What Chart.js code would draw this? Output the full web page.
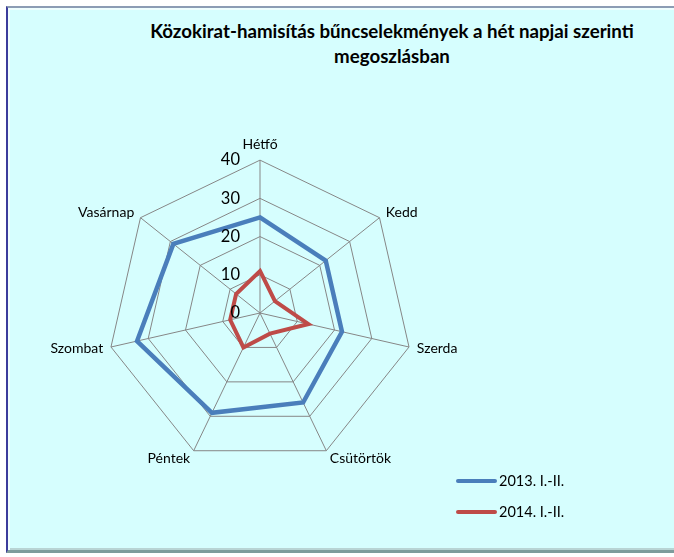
<!DOCTYPE html>
<html>
<head>
<meta charset="utf-8">
<script src="https://cdn.jsdelivr.net/npm/chart.js@4"></script>
<style>
  body { margin: 0; width: 674px; height: 557px; background: #fff; position: relative; overflow: hidden; font-family: Lato, sans-serif; }
  .frame {
    position: absolute; left: 6px; top: 6px; width: 720px; height: 542px;
    background: #d6fefe;
    border-left: 2px solid #3c3c9c;
    border-top: 2px solid #8c9cb4;
    border-bottom: 3px solid #7e9c9c;
    box-shadow: inset 2px 2px 0 #eefefe, inset 0 -2px 0 #b8d4d4;
  }
  .title {
    position: absolute; left: 100px; width: 584px; top: 19px;
    text-align: center; font-weight: bold; font-size: 18.7px; line-height: 25px; color: #000;
  }
  #wrap { position: absolute; left: 30px; top: 136px; width: 460px; height: 338px; }
  .legend { position: absolute; left: 456px; top: 465px; font-size: 14.5px; color: #000; }
  .legend div { height: 31px; display: flex; align-items: center; }
  .legend span.sw { display: inline-block; width: 41px; height: 4px; border-radius: 2px; margin-right: 2px; }
</style>
</head>
<body>
<div class="frame"></div>
<div class="title">Közokirat-hamisítás bűncselekmények a hét napjai szerinti<br>megoszlásban</div>
<div id="wrap"><canvas id="chart" width="460" height="338"></canvas></div>
<div class="legend" id="legend"></div>
<script>
const days = ['Hétfő', 'Kedd', 'Szerda', 'Csütörtök', 'Péntek', 'Szombat', 'Vasárnap'];
const series2013 = [25, 22, 22, 26, 29, 33, 29];
const series2014 = [11, 5, 13, 6, 10, 8, 8];
const seriesNames = ['2013. I.-II.', '2014. I.-II.'];
const seriesColors = ['#4a7ebb', '#be4b48'];
const tickValues = [0, 10, 20, 30, 40];

// tick labels right-aligned left of the vertical axis, like Excel
const tickLabelPlugin = {
  id: 'tickLabels',
  afterDatasetsDraw(chart) {
    const r = chart.scales.r;
    const ctx = chart.ctx;
    ctx.save();
    ctx.font = '16.5px Lato';
    ctx.fillStyle = '#000';
    ctx.textAlign = 'right';
    ctx.textBaseline = 'middle';
    tickValues.forEach(v => {
      const d = r.getDistanceFromCenterForValue(v);
      ctx.fillText(String(v), r.xCenter - 20, r.yCenter - d);
    });
    ctx.restore();
  }
};

const chart = new Chart(document.getElementById('chart').getContext('2d'), {
  type: 'radar',
  data: {
    labels: days,
    datasets: [
      { label: seriesNames[0], data: series2013, borderColor: seriesColors[0], borderWidth: 4.5, fill: false, pointRadius: 0, pointHoverRadius: 0, tension: 0 },
      { label: seriesNames[1], data: series2014, borderColor: seriesColors[1], borderWidth: 4, fill: false, pointRadius: 0, pointHoverRadius: 0, tension: 0 }
    ]
  },
  options: {
    responsive: false,
    animation: false,
    plugins: { legend: { display: false }, title: { display: false }, tooltip: { enabled: false } },
    scales: {
      r: {
        min: 0,
        max: 40,
        ticks: { stepSize: 10, display: false, showLabelBackdrop: false },
        grid: { color: '#868686', lineWidth: 1 },
        angleLines: { color: '#868686', lineWidth: 1 },
        pointLabels: {
          color: '#000',
          // labels centred on their anchor point, as Excel does
          padding: ctx => (ctx.index === 0 ? 16 : 8),
          font: { family: 'Lato', size: 14, lineHeight: 0.01 }
        }
      }
    }
  },
  plugins: [tickLabelPlugin]
});

const legend = document.getElementById('legend');
seriesNames.forEach((name, i) => {
  const row = document.createElement('div');
  row.innerHTML = '<span class="sw" style="background:' + seriesColors[i] + '"></span>' + name;
  legend.appendChild(row);
});
</script>
</body>
</html>
